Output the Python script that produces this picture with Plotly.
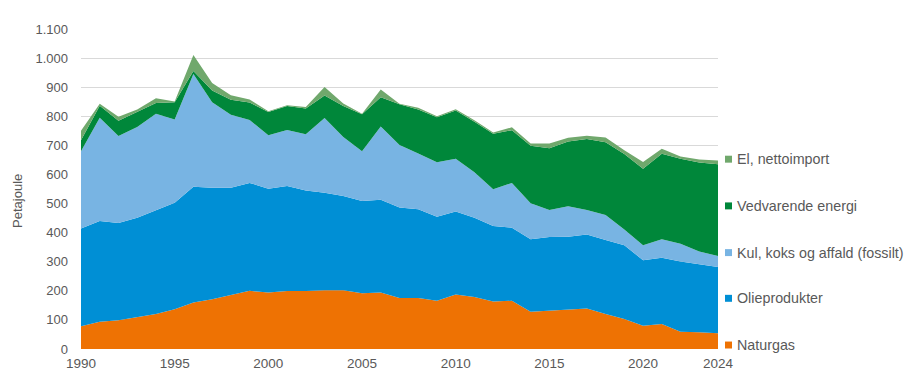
import plotly.graph_objects as go

years = list(range(1990, 2025))

naturgas = [78, 94, 99, 109, 120, 137, 160, 171, 185, 200, 194, 199, 199, 202, 202, 192, 194, 175,
            175, 166, 187, 179, 163, 166, 128, 131, 134, 139, 120, 103, 80, 86, 59, 58, 54]
olie = [336, 346, 334, 342, 357, 366, 398, 383, 369, 371, 357, 361, 346, 335, 324, 317, 319, 311,
        305, 289, 286, 272, 260, 251, 249, 254, 252, 255, 255, 254, 225, 228, 242, 233, 228]
kul = [266, 355, 299, 312, 332, 286, 387, 294, 251, 216, 184, 193, 193, 257, 203, 171, 252, 215,
       192, 187, 181, 157, 126, 154, 124, 93, 105, 84, 86, 54, 52, 63, 61, 44, 38]
vedvarende = [38, 41, 53, 52, 37, 59, 11, 41, 52, 60, 80, 82, 89, 77, 106, 127, 100, 140,
              151, 155, 166, 173, 191, 181, 198, 212, 222, 244, 250, 259, 263, 294, 292, 306, 315]
el = [32, 7, 13, 8, 16, 3, 55, 25, 15, 11, 2, 3, 5, 30, 9, 2, 27, 2,
      6, 3, 4, 5, 4, 10, 7, 16, 13, 11, 16, 13, 23, 17, 8, 10, 13]

series_names = ["Naturgas", "Olieprodukter", "Kul, koks og affald (fossilt)",
                "Vedvarende energi", "El, nettoimport"]
series_values = [naturgas, olie, kul, vedvarende, el]
colors = ["#EE7203", "#008FD5", "#78B4E3", "#00873A", "#70A86C"]

x_ticks = [1990, 1995, 2000, 2005, 2010, 2015, 2020, 2024]
y_ticks = list(range(0, 1101, 100))

W, H = 905, 383
ML, MT = 81, 29
PR, PB = 718, 351  # plot right / bottom in page px
MR, MB = W - PR, H - PB
PW, PH = PR - ML, PB - MT
FONT = "Liberation Sans, Arial, sans-serif"
GRAY = "#595959"

fig = go.Figure()
for name, vals, col in zip(series_names, series_values, colors):
    fig.add_trace(go.Scatter(
        x=years, y=vals, name=name, mode="lines", stackgroup="one",
        line=dict(width=0, color=col), fillcolor=col, showlegend=False,
        hovertemplate="%{x}: %{y}<extra>" + name + "</extra>",
    ))

# manual legend (top to bottom: reverse order); page pixel positions
legend_y = [160, 207, 254, 300, 347]
for (name, col), py in zip(list(zip(series_names, colors))[::-1], legend_y):
    x0 = (725 - ML) / PW
    x1 = (732 - ML) / PW
    yc = (PB - py) / PH
    half = 3.5 / PH
    fig.add_shape(type="rect", xref="paper", yref="paper", x0=x0, x1=x1,
                  y0=yc - half, y1=yc + half, fillcolor=col, line=dict(width=0))
    fig.add_annotation(xref="paper", yref="paper", x=(735 - ML) / PW, y=yc,
                       text=name, showarrow=False, xanchor="left", yanchor="middle",
                       font=dict(family=FONT, size=14.3, color=GRAY))

fig.add_annotation(xref="paper", yref="paper", x=(18 - ML) / PW,
                   y=(PB - 202) / PH,
                   text="Petajoule", textangle=-90, showarrow=False,
                   xanchor="center", yanchor="middle",
                   font=dict(family=FONT, size=13, color=GRAY))

fig.update_layout(
    width=W, height=H,
    margin=dict(l=ML, r=MR, t=MT, b=MB, pad=0),
    paper_bgcolor="white", plot_bgcolor="white",
    separators=",.",
    font=dict(family=FONT, size=13, color=GRAY),
    showlegend=False,
    xaxis=dict(range=[1990, 2024], tickvals=x_ticks, showgrid=False, zeroline=False,
               showline=False, ticks="", ticklabelstandoff=4,
               tickfont=dict(family=FONT, size=13.5, color=GRAY)),
    yaxis=dict(range=[0, 1100], tickvals=y_ticks, tickformat=",d", showgrid=True,
               gridcolor="#D9D9D9", gridwidth=1, zeroline=False, showline=False,
               ticks="", ticklabelstandoff=12,
               tickfont=dict(family=FONT, size=13, color=GRAY)),
)

fig.write_html(
    "out.html",
    config={"displayModeBar": False},
    post_script="document.body.style.margin='0';document.body.style.overflow='hidden';",
)
